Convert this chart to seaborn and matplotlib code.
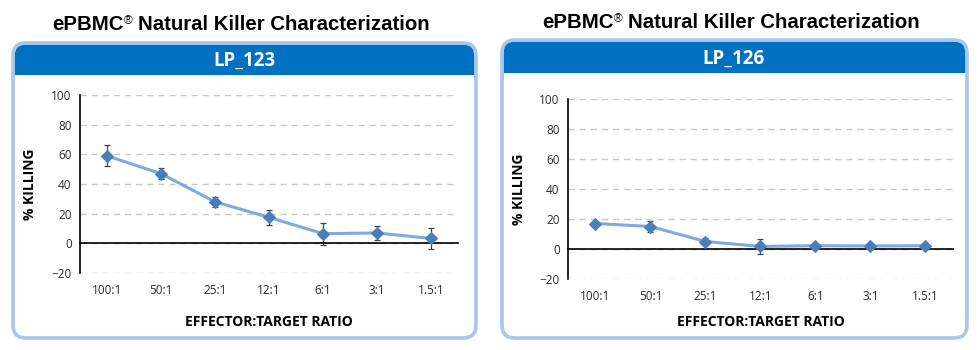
import numpy as np
import pandas as pd
import matplotlib
matplotlib.use("Agg")
import matplotlib.pyplot as plt
import seaborn as sns
from matplotlib.patches import FancyBboxPatch, Rectangle

# ---------------- data ----------------
ratios = ["100:1", "50:1", "25:1", "12:1", "6:1", "3:1", "1.5:1"]
lp123_mean = [59, 47, 28, 17.5, 6.5, 7, 3.3]
lp123_err = [7, 3.5, 3.5, 5, 7.5, 4.5, 7]
lp126_mean = [17, 15, 5, 1.7, 2.2, 2, 2.2]
lp126_err = [1, 3.6, 2.5, 5.3, 1, 1, 1]
y_ticks = [-20, 0, 20, 40, 60, 80, 100]
title_parts = ["ePBMC", "®", "Natural Killer Characterization"]
panel_names = ["LP_123", "LP_126"]
x_label = "EFFECTOR:TARGET RATIO"
y_label = "% KILLING"

# ---------------- style ----------------
sns.set_style("white")
plt.rcParams["font.family"] = ["Open Sans", "DejaVu Sans"]

LINE_C = "#7eaae0"
MARK_C = "#4a7ebb"
HEAD_C = "#0070c0"
BORDER_C = "#a9c6eb"
ERR_C = "#404040"
TXT_C = "#2b2b2b"

W, H = 979, 350
fig = plt.figure(figsize=(W / 100, H / 100), dpi=100)
renderer = fig.canvas.get_renderer()


def box_in(x0, y0, x1, y1):
    """pixel box (top-left origin) -> inches box (bottom-left origin)"""
    return x0 / 100, (H - y1) / 100, (x1 - x0) / 100, (y1 - y0) / 100


def draw_title(cx, cy):
    fs = 14.7
    px = fs * 100 / 72
    cap = 0.716 * px
    base_y = cy + cap / 2
    t1 = fig.text(0, 0, title_parts[0], fontsize=fs, fontweight="bold",
                  family="Liberation Sans", va="baseline", ha="left", color="black")
    t2 = fig.text(0, 0, title_parts[1], fontsize=fs * 0.58, color="black",
                  family="Liberation Sans", va="baseline", ha="left")
    t3 = fig.text(0, 0, title_parts[2], fontsize=fs, fontweight="bold",
                  family="Liberation Sans", va="baseline", ha="left", color="black")
    w1 = t1.get_window_extent(renderer).width
    w2 = t2.get_window_extent(renderer).width
    w3 = t3.get_window_extent(renderer).width
    space = 0.278 * px
    total = w1 + 0.5 + w2 + space + w3
    left = cx - total / 2
    t1.set_position((left / W, 1 - base_y / H))
    t2.set_position(((left + w1 + 0.5) / W, 1 - (base_y - cap + 0.72 * fs * 0.58 * 100 / 72) / H))
    t3.set_position(((left + w1 + 0.5 + w2 + space) / W, 1 - base_y / H))


def draw_panel(x0, y0, x1, y1, head_bottom, name, title_xy, head_text_xy):
    tr = fig.dpi_scale_trans
    bx = box_in(x0, y0, x1, y1)
    fig.add_artist(FancyBboxPatch(bx[:2], bx[2], bx[3],
                                  boxstyle="round,pad=0,rounding_size=0.13",
                                  transform=tr, facecolor="white",
                                  edgecolor="none", zorder=-6))
    hb = box_in(x0 + 1.5, y0 + 1.5, x1 - 1.5, head_bottom + 15)
    fig.add_artist(FancyBboxPatch(hb[:2], hb[2], hb[3],
                                  boxstyle="round,pad=0,rounding_size=0.11",
                                  transform=tr, facecolor=HEAD_C,
                                  edgecolor="none", zorder=-5))
    wb = box_in(x0 + 1.5, head_bottom, x1 - 1.5, head_bottom + 20)
    fig.add_artist(Rectangle(wb[:2], wb[2], wb[3], transform=tr,
                             facecolor="white", edgecolor="none", zorder=-4))
    fig.add_artist(FancyBboxPatch(bx[:2], bx[2], bx[3],
                                  boxstyle="round,pad=0,rounding_size=0.13",
                                  transform=tr, facecolor="none",
                                  edgecolor=BORDER_C, linewidth=2.6, zorder=-3))
    draw_title(*title_xy)
    fig.text(head_text_xy[0] / W, 1 - head_text_xy[1] / H, name,
             ha="center", va="center", fontsize=13.5, fontweight="bold",
             color="white")


def draw_chart(rect_px, mean, err, xlab_y, ylab_x):
    x0, y0, x1, y1 = rect_px
    ax = fig.add_axes([x0 / W, 1 - y1 / H, (x1 - x0) / W, (y1 - y0) / H])
    ax.set_facecolor("none")
    df = pd.DataFrame({"pos": np.arange(len(ratios)), "kill": mean, "err": err})
    ax.errorbar(df["pos"], df["kill"], yerr=df["err"], fmt="none", ecolor=ERR_C,
                elinewidth=0.9, capsize=2.3, capthick=0.9, zorder=2.5)
    sns.lineplot(data=df, x="pos", y="kill", ax=ax, color=LINE_C, linewidth=2.2,
                 marker="D", markersize=6, markerfacecolor=MARK_C,
                 markeredgecolor=MARK_C, zorder=3)
    ax.set_xlim(-0.5, len(ratios) - 0.5)
    ax.set_ylim(y_ticks[0], y_ticks[-1])
    ax.set_yticks(y_ticks)
    ax.set_axisbelow(True)
    ax.yaxis.grid(True, linestyle=(0, (4.5, 3.5)), color="#c8c8c8", linewidth=1.0)
    ax.xaxis.grid(False)
    for s in ("top", "right"):
        ax.spines[s].set_visible(False)
    ax.spines["left"].set_color("black")
    ax.spines["left"].set_linewidth(1.2)
    ax.spines["bottom"].set_position(("data", 0))
    ax.spines["bottom"].set_color("black")
    ax.spines["bottom"].set_linewidth(1.2)
    ax.set_xticks([])
    ax.set_xticks(np.arange(0.5, len(ratios), 1.0), minor=True)
    ax.tick_params(axis="x", which="minor", direction="out", length=4,
                   width=1.2, color="black", labelbottom=False)
    ax.tick_params(axis="y", direction="out", length=4, width=1.2,
                   color="black", labelsize=8.5, labelcolor=TXT_C, pad=2)
    sec = ax.secondary_xaxis(0)
    sec.set_xticks(range(len(ratios)), labels=ratios)
    sec.tick_params(length=0, pad=8, labelsize=8.5, labelcolor=TXT_C)
    sec.spines["bottom"].set_visible(False)
    ax.set_xlabel(x_label, fontsize=10, fontweight="bold", color="black")
    ax.set_ylabel(y_label, fontsize=10, fontweight="bold", color="black")
    ax.xaxis.set_label_coords(0.5, (y1 - xlab_y) / (y1 - y0))
    ax.yaxis.set_label_coords((ylab_x - x0) / (x1 - x0), 0.5)
    return ax


draw_panel(13, 43, 476, 338, 75, panel_names[0], (241, 23), (245, 61))
draw_panel(502, 40, 967, 338, 73, panel_names[1], (731, 21), (734, 59))

draw_chart((80, 95, 458, 273), lp123_mean, lp123_err, 315, 37)
draw_chart((568, 99, 953, 279), lp126_mean, lp126_err, 315, 526)

fig.savefig("out.png", dpi=100)
